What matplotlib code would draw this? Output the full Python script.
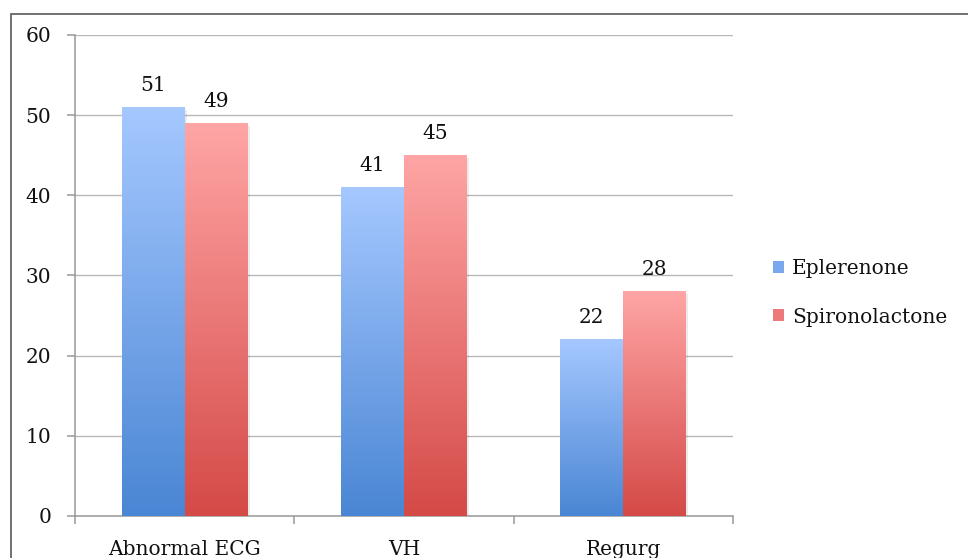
import numpy as np
import matplotlib
matplotlib.use("Agg")
import matplotlib.pyplot as plt
from matplotlib.patches import Patch, Rectangle
from matplotlib.colors import LinearSegmentedColormap

categories = ["Abnormal ECG", "VH", "Regurg"]
eplerenone = [51, 41, 22]
spironolactone = [49, 45, 28]
series_names = ["Eplerenone", "Spironolactone"]

plt.rcParams['font.family'] = ['DejaVu Serif']
FS = 14.5

blue_cmap = LinearSegmentedColormap.from_list("b", ["#4a86d4", "#a5c8ff"])
red_cmap = LinearSegmentedColormap.from_list("r", ["#d44a47", "#ffa5a5"])

fig = plt.figure(figsize=(9.68, 5.58), dpi=100)
ax = fig.add_axes([0.0775, 0.0753, 0.6795, 0.862])

# outer chart frame
fig.patches.append(Rectangle((11 / 968, -0.1), 1.2, 1 - 14.5 / 558 + 0.1,
                             transform=fig.transFigure, fill=False,
                             edgecolor="#666666", linewidth=1.3))

x = np.arange(len(categories))
w = 0.287
grad = np.linspace(0, 1, 256).reshape(-1, 1)


def gradient_bars(xs, vals, cmap):
    bars = ax.bar(xs, vals, w, facecolor="none", edgecolor="none", zorder=3)
    for b in bars:
        x0, y0 = b.get_x(), b.get_y()
        # soft shadow
        ax.add_patch(Rectangle((x0 + 0.01, y0), b.get_width(), b.get_height() - 0.3,
                               facecolor="#000000", alpha=0.08, zorder=2.5,
                               edgecolor="none"))
        ax.imshow(grad, extent=[x0, x0 + b.get_width(), y0, y0 + b.get_height()],
                  origin="lower", aspect="auto", cmap=cmap, zorder=3)
    return bars


b1 = gradient_bars(x - w / 2, eplerenone, blue_cmap)
b2 = gradient_bars(x + w / 2, spironolactone, red_cmap)

for bars, vals in ((b1, eplerenone), (b2, spironolactone)):
    for b, v in zip(bars, vals):
        ax.annotate(str(v), (b.get_x() + b.get_width() / 2, v),
                    xytext=(0, 9), textcoords="offset points",
                    ha="center", va="bottom", fontsize=FS, color="#111111")

ax.set_xlim(-0.5, len(categories) - 0.5)
ax.set_ylim(0, 60)
ax.set_yticks(range(0, 61, 10))
ax.grid(axis="y", color="#b8b8b8", linewidth=1.0, zorder=0)
ax.set_axisbelow(True)

ax.set_xticks(x)
ax.set_xticklabels(categories)
ax.set_xticks(np.arange(len(categories) + 1) - 0.5, minor=True)
ax.tick_params(axis="x", which="major", length=0, pad=17, labelsize=FS,
               labelcolor="#111111")
ax.tick_params(axis="x", which="minor", length=6, color="#999999", width=1.1)
ax.tick_params(axis="y", length=6, color="#999999", width=1.1, pad=11,
               labelsize=FS, labelcolor="#111111")

for s in ("top", "right"):
    ax.spines[s].set_visible(False)
for s in ("left", "bottom"):
    ax.spines[s].set_color("#999999")
    ax.spines[s].set_linewidth(1.1)

handles = [Patch(facecolor="#7aa8ec", edgecolor="none"),
           Patch(facecolor="#ec7a7a", edgecolor="none")]
fig.legend(handles, series_names, loc="center left",
           bbox_to_anchor=(0.78, 0.475), frameon=False, fontsize=FS,
           handlelength=0.55, handleheight=0.55, handletextpad=0.4,
           labelspacing=1.45, labelcolor="#111111")

fig.savefig("out.png", dpi=100)
